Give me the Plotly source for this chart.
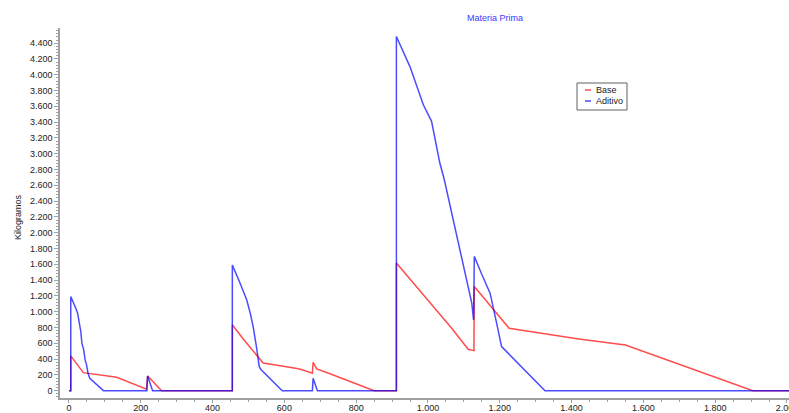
import plotly.graph_objects as go

# Materia prima en inventario (kg) a lo largo del tiempo
base_t = [0, 5, 5, 40, 133, 216, 219, 252, 258, 455, 455, 486, 541, 606, 643, 678, 680,
          690, 727, 850, 912, 912, 1066, 1112, 1128, 1129, 1226, 1420, 1550, 1905, 2010]
base_kg = [0, 0, 440, 228, 170, 18, 185, 18, 0, 0, 835, 650, 350, 304, 275, 222, 358,
           275, 215, 0, 0, 1615, 790, 524, 507, 1320, 790, 655, 578, 0, 0]

aditivo_t = [0, 5, 5, 14, 19, 24, 28, 33, 36, 41, 45, 49, 53, 58, 96, 217, 219, 233,
             455, 455, 475, 495, 505, 513, 522, 530, 534, 594, 678, 680, 692,
             912, 912, 950, 987, 1010, 1020, 1033, 1045, 1056, 1068, 1080, 1092,
             1103, 1112, 1122, 1127, 1129, 1150, 1173, 1190, 1205, 1326, 2010]
aditivo_kg = [0, 0, 1190, 1108, 1044, 981, 875, 748, 601, 516, 389, 326, 220, 157, 0, 0,
              185, 0, 0, 1590, 1380, 1150, 980, 811, 560, 304, 271, 0, 0, 157, 0,
              0, 4485, 4100, 3620, 3410, 3180, 2882, 2680, 2459, 2200, 1952, 1750,
              1530, 1330, 1108, 896, 1700, 1470, 1234, 880, 558, 0, 0]

W, H = 789, 413
ML, MR, MT, MB = 60, 0, 28, 15
PW, PH = W - ML - MR, H - MT - MB


def px(x):
    return (x - ML) / PW


def py(y):
    return (H - MB - y) / PH


RED = "rgba(255,0,0,0.7)"
BLUE = "rgba(0,0,255,0.7)"
FONT = "Liberation Sans"

fig = go.Figure()
fig.add_trace(go.Scatter(x=base_t, y=base_kg, mode="lines", name="Base",
                         line=dict(color=RED, width=1.5)))
fig.add_trace(go.Scatter(x=aditivo_t, y=aditivo_kg, mode="lines", name="Aditivo",
                         line=dict(color=BLUE, width=1.5)))

axis_common = dict(
    showgrid=False, zeroline=False, showline=True, linecolor="#a0a0a0", linewidth=1.5,
    ticks="outside", tickcolor="#a0a0a0", tickwidth=1,
    tickfont=dict(family=FONT, size=9, color="#222222"),
    tickformat=",d", separatethousands=True, ticklabeloverflow="allow",
    automargin=False,
)

fig.update_xaxes(range=[-25, 2005.6], tick0=0, dtick=200, ticklen=3,
                 ticklabelstandoff=-3,
                 minor=dict(dtick=50, ticks="outside", ticklen=2, tickcolor="#a0a0a0"),
                 **axis_common)
fig.update_yaxes(range=[-93, 4592], tick0=0, dtick=200, ticklen=4,
                 minor=dict(dtick=40, ticks="outside", ticklen=2, tickcolor="#a0a0a0"),
                 **axis_common)

# Cuadro de leyenda
legend_shapes = [
    dict(type="rect", xref="paper", yref="paper", x0=px(577), x1=px(627), y0=py(110), y1=py(83),
         line=dict(color="#606060", width=1), fillcolor="white", layer="above"),
    dict(type="line", xref="paper", yref="paper", x0=px(585), x1=px(591), y0=py(90), y1=py(90),
         line=dict(color=RED, width=1.5), layer="above"),
    dict(type="line", xref="paper", yref="paper", x0=px(585), x1=px(591), y0=py(101), y1=py(101),
         line=dict(color=BLUE, width=1.5), layer="above"),
]

annotations = [
    dict(text="Materia Prima", xref="paper", yref="paper", x=px(495), y=py(18),
         showarrow=False, xanchor="center", yanchor="middle",
         font=dict(family=FONT, size=9, color="#3838ff")),
    dict(text="Kilogramos", xref="paper", yref="paper", x=px(18), y=py(217),
         showarrow=False, textangle=-90, xanchor="center", yanchor="middle",
         font=dict(family=FONT, size=9, color="#222222")),
    dict(text="Base", xref="paper", yref="paper", x=px(594), y=py(90),
         showarrow=False, xanchor="left", yanchor="middle",
         font=dict(family=FONT, size=9, color="#222222")),
    dict(text="Aditivo", xref="paper", yref="paper", x=px(594), y=py(101),
         showarrow=False, xanchor="left", yanchor="middle",
         font=dict(family=FONT, size=9, color="#222222")),
]

fig.update_layout(
    width=W, height=H,
    margin=dict(l=ML, r=MR, t=MT, b=MB, pad=0, autoexpand=False),
    paper_bgcolor="white", plot_bgcolor="white",
    separators=",.",
    showlegend=False,
    shapes=legend_shapes,
    annotations=annotations,
)

fig.write_html("out.html")
